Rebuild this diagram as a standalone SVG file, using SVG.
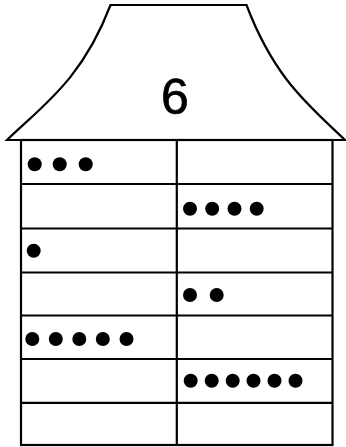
<svg xmlns="http://www.w3.org/2000/svg" width="346" height="447" viewBox="0 0 346 447">
<style>
.ln{stroke:#000;stroke-width:2.2;fill:none}
.dot{fill:#000}
.num{font-family:"Liberation Sans",Arial,sans-serif;font-size:50px;text-anchor:middle;fill:#000;stroke:#000;stroke-width:0.7}
</style>
<rect width="346" height="447" fill="#fff"/>
<g id="roof">
<path class="ln" d="M7,140 C42,106 82,80 110.5,5 L246.5,5 C275,80 310,106 345,140 Z" fill="#fff"/>
<text class="num" x="175" y="113.5">6</text>
</g>
<g id="table">
<rect class="ln" x="21" y="140" width="311.5" height="305"/>
<line class="ln" x1="176.8" y1="140" x2="176.8" y2="445"/>
<line class="ln" x1="21" y1="184" x2="332.5" y2="184"/>
<line class="ln" x1="21" y1="228.5" x2="332.5" y2="228.5"/>
<line class="ln" x1="21" y1="272.5" x2="332.5" y2="272.5"/>
<line class="ln" x1="21" y1="315.5" x2="332.5" y2="315.5"/>
<line class="ln" x1="21" y1="359" x2="332.5" y2="359"/>
<line class="ln" x1="21" y1="402.8" x2="332.5" y2="402.8"/>
</g>
<g id="dots">
<circle class="dot" cx="34.7" cy="164.3" r="7"/>
<circle class="dot" cx="59.7" cy="164.3" r="7"/>
<circle class="dot" cx="85.7" cy="164.3" r="7"/>
<circle class="dot" cx="190" cy="208.7" r="7"/>
<circle class="dot" cx="212.2" cy="208.7" r="7"/>
<circle class="dot" cx="234.5" cy="208.7" r="7"/>
<circle class="dot" cx="256.7" cy="208.7" r="7"/>
<circle class="dot" cx="33.7" cy="250.7" r="7"/>
<circle class="dot" cx="190" cy="295" r="7"/>
<circle class="dot" cx="216.7" cy="295" r="7"/>
<circle class="dot" cx="32.3" cy="339" r="7"/>
<circle class="dot" cx="55.8" cy="339" r="7"/>
<circle class="dot" cx="79.3" cy="339" r="7"/>
<circle class="dot" cx="102.8" cy="339" r="7"/>
<circle class="dot" cx="126.5" cy="339" r="7"/>
<circle class="dot" cx="190.7" cy="380.7" r="7"/>
<circle class="dot" cx="211.7" cy="380.7" r="7"/>
<circle class="dot" cx="232.7" cy="380.7" r="7"/>
<circle class="dot" cx="253.5" cy="380.7" r="7"/>
<circle class="dot" cx="274.5" cy="380.7" r="7"/>
<circle class="dot" cx="295.5" cy="380.7" r="7"/>
</g>
</svg>
